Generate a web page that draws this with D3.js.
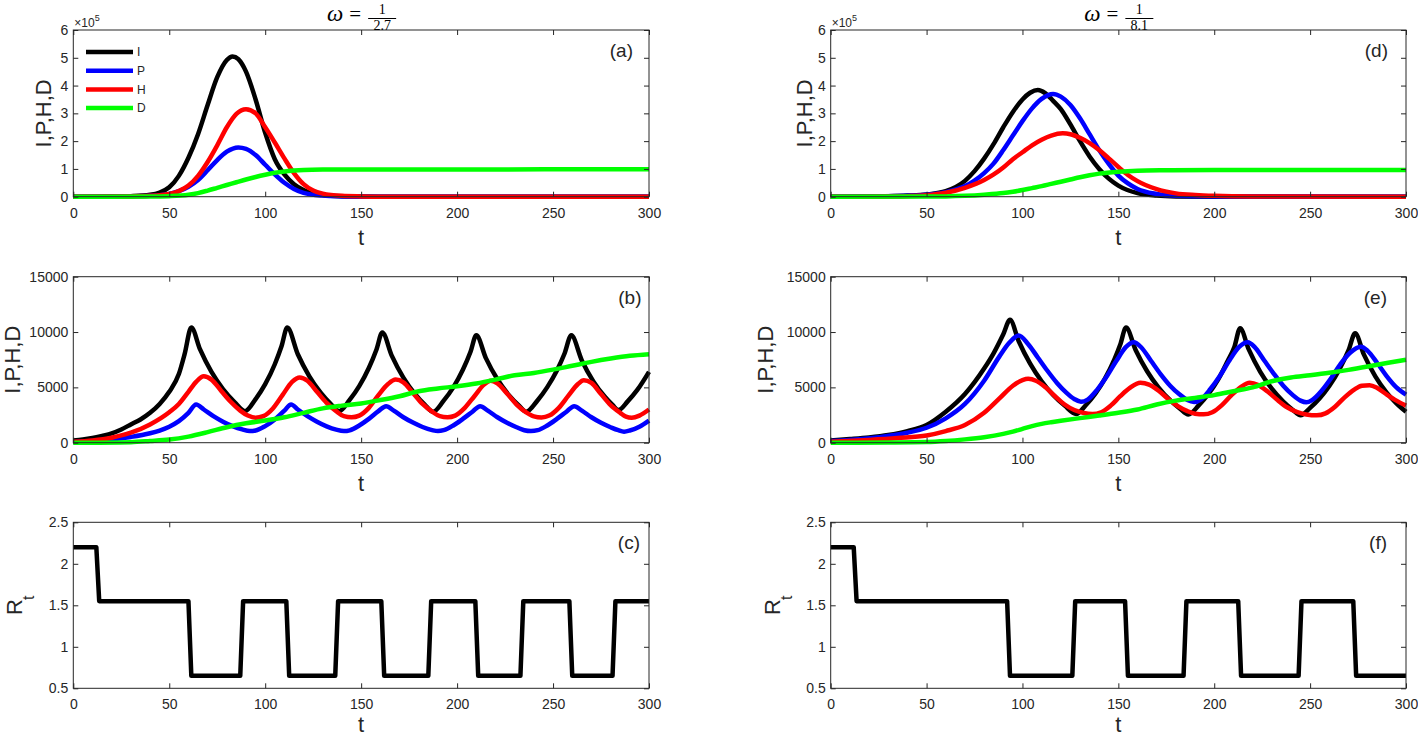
<!DOCTYPE html>
<html>
<head>
<meta charset="utf-8">
<script src="https://cdn.jsdelivr.net/npm/d3@7"></script>
<style>
body { margin: 0; background: #fff; }
svg { display: block; }
text { font-family: "Liberation Sans", Arial, sans-serif; fill: #262626; }
.serif { font-family: "Liberation Serif", "DejaVu Serif", serif; fill: #000; }
</style>
</head>
<body>
<svg id="fig" width="1418" height="739"></svg>
<script>
// ---- data ----
// x axis (days) and tick labels
const tDomain = [0, 300];
const tTicks = [0, 50, 100, 150, 200, 250, 300];
const bigTicks = [0, 1, 2, 3, 4, 5, 6];          // x10^5
const smallTicks = [0, 5000, 10000, 15000];
const rtTicks = [0.5, 1, 1.5, 2, 2.5];
const legendNames = ['I', 'P', 'H', 'D'];
const colors = ['#000000', '#0000ff', '#ff0000', '#00ff00'];

// (a) omega = 1/2.7, values in units of 10^5  [t, value]
const aI = [[0,0],[20,0.005],[30,0.02],[40,0.07],[45,0.15],[50,0.34],[55,0.75],[60,1.4],[65,2.25],[70,3.3],[75,4.3],[80,4.92],[83,5.05],[86,4.95],[90,4.5],[95,3.5],[100,2.3],[105,1.35],[110,0.8],[115,0.45],[120,0.24],[125,0.12],[130,0.06],[140,0.015],[150,0.003],[170,0],[300,0]];
const aP = [[0,0],[30,0.01],[40,0.03],[50,0.1],[55,0.2],[60,0.36],[65,0.6],[70,0.95],[75,1.32],[80,1.62],[86,1.77],[90,1.72],[95,1.5],[100,1.15],[105,0.8],[110,0.5],[115,0.28],[120,0.14],[130,0.04],[140,0.01],[150,0],[300,0]];
const aH = [[0,0],[30,0.01],[40,0.03],[50,0.1],[55,0.2],[60,0.4],[65,0.75],[70,1.25],[75,1.85],[80,2.5],[85,2.98],[90,3.15],[95,3.0],[100,2.5],[105,1.95],[110,1.38],[115,0.85],[120,0.45],[125,0.22],[130,0.11],[140,0.03],[150,0.01],[160,0],[300,0]];
const aD = [[0,0],[40,0.005],[50,0.02],[60,0.07],[65,0.13],[70,0.22],[75,0.32],[80,0.42],[85,0.52],[90,0.62],[95,0.71],[100,0.79],[105,0.86],[110,0.91],[115,0.94],[120,0.96],[130,0.975],[150,0.98],[300,0.985]];

// (b) omega = 1/2.7 with periodic intervention
const bI = [[0,200],[5,280],[10,420],[15,620],[20,850],[25,1200],[30,1650],[35,2100],[40,2700],[45,3500],[50,4600],[55,6200],[58,8000],[61.5,10400],[66,8450],[72,6400],[78,4850],[84,3680],[89.5,2850],[95,3940],[100,5290],[105,7090],[108.5,8710],[111.5,10400],[117,7990],[123,6000],[129,4500],[134,3540],[138.5,2850],[144,3870],[149,5110],[154,6750],[158,8430],[161,9950],[166,7840],[172,5880],[178,4410],[183,3470],[187.5,2800],[193,3800],[198,5000],[203,6590],[207,8220],[210,9700],[215,7640],[221,5730],[227,4300],[232,3390],[236,2800],[242,3840],[247,5020],[252,6520],[256,8060],[259.5,9700],[265,7430],[271,5540],[277,4150],[281,3410],[284,2950],[289,3760],[294,4790],[300,6400]];
const bP = [[0,50],[10,150],[20,300],[30,520],[40,850],[45,1100],[50,1450],[55,1950],[60,2700],[64,3450],[68,3000],[73,2400],[78,1900],[83,1500],[88,1200],[92,1050],[95,1100],[100,1500],[105,2100],[110,2900],[113.5,3450],[117,3000],[122,2400],[127,1900],[132,1480],[137,1180],[141,1050],[144,1120],[149,1550],[154,2150],[159,2850],[163,3300],[167,2900],[172,2300],[177,1820],[182,1420],[187,1140],[190,1050],[193,1130],[198,1560],[203,2150],[208,2800],[212,3300],[216,2900],[221,2300],[226,1800],[231,1400],[235,1130],[238.5,1050],[242,1130],[247,1560],[252,2150],[257,2800],[261,3300],[265,2900],[270,2300],[275,1800],[280,1400],[284,1130],[287,1000],[290,1100],[295,1450],[300,2000]];
const bH = [[0,80],[10,200],[20,450],[30,900],[40,1650],[50,2750],[55,3500],[60,4600],[64,5500],[68,6000],[72,5700],[77,4700],[82,3700],[87,2900],[91,2450],[95,2250],[99,2400],[104,3100],[109,4300],[114,5500],[118,5900],[122,5600],[127,4600],[132,3600],[137,2850],[141,2400],[145,2300],[149,2450],[154,3150],[159,4300],[164,5300],[168,5700],[172,5450],[177,4500],[182,3500],[187,2800],[191,2400],[195,2300],[199,2450],[204,3150],[209,4200],[214,5250],[217.5,5600],[221,5350],[226,4450],[231,3450],[236,2750],[240,2380],[244,2280],[248,2450],[253,3150],[258,4250],[263,5300],[266,5650],[270,5400],[275,4400],[280,3400],[285,2700],[288,2350],[291,2250],[295,2450],[300,3000]];
const bD = [[0,0],[30,50],[40,150],[50,280],[60,550],[70,950],[80,1400],[90,1750],[100,2000],[110,2300],[120,2700],[130,3100],[140,3350],[150,3550],[160,3850],[170,4200],[180,4650],[190,4900],[200,5100],[210,5350],[220,5700],[230,6100],[240,6300],[250,6600],[260,6950],[270,7300],[280,7600],[290,7850],[300,8000]];

// (c) R_t for omega = 1/2.7
const cR = [[0,2.2],[12,2.2],[13.5,1.55],[60,1.55],[61.5,0.65],[87,0.65],[88.5,1.55],[111,1.55],[112.5,0.65],[136.5,0.65],[138,1.55],[160.5,1.55],[162,0.65],[185,0.65],[186.5,1.55],[209.5,1.55],[211,0.65],[233,0.65],[234.5,1.55],[258.5,1.55],[260,0.65],[281,0.65],[282.5,1.55],[300,1.55]];

// (d) omega = 1/8.1, values in units of 10^5
const dI = [[0,0],[30,0.02],[40,0.04],[50,0.08],[60,0.2],[70,0.57],[75,0.92],[80,1.37],[85,1.9],[90,2.5],[95,3.05],[100,3.5],[104,3.74],[108,3.84],[112,3.72],[116,3.45],[120,3.15],[125,2.6],[130,2.0],[135,1.45],[140,1.0],[145,0.65],[150,0.4],[160,0.13],[170,0.04],[180,0.01],[200,0],[300,0]];
const dP = [[0,0],[40,0.03],[50,0.07],[60,0.16],[70,0.38],[75,0.58],[80,0.85],[85,1.2],[90,1.68],[95,2.2],[100,2.72],[105,3.18],[110,3.52],[116,3.7],[120,3.6],[125,3.3],[130,2.82],[135,2.25],[140,1.68],[145,1.18],[150,0.76],[155,0.48],[160,0.28],[170,0.1],[180,0.03],[200,0.005],[300,0]];
const dH = [[0,0],[30,0.01],[40,0.02],[50,0.05],[60,0.14],[70,0.32],[80,0.6],[85,0.8],[90,1.05],[95,1.35],[100,1.6],[105,1.85],[110,2.05],[115,2.2],[121,2.28],[125,2.25],[130,2.12],[135,1.93],[140,1.68],[145,1.38],[150,1.07],[155,0.78],[160,0.56],[170,0.27],[180,0.12],[190,0.06],[200,0.03],[220,0.01],[300,0]];
const dD = [[0,0],[50,0.005],[60,0.01],[70,0.03],[80,0.07],[90,0.13],[95,0.18],[100,0.24],[105,0.31],[110,0.38],[115,0.46],[120,0.54],[125,0.62],[130,0.7],[135,0.77],[140,0.83],[150,0.9],[160,0.935],[175,0.95],[200,0.96],[300,0.96]];

// (e) omega = 1/8.1 with periodic intervention
const eI = [[0,200],[10,330],[20,480],[30,700],[40,1050],[50,1600],[60,2800],[70,4400],[80,6700],[85,8100],[90,9800],[93.5,11100],[98,9190],[104,7140],[110,5550],[116,4310],[122,3350],[128,2600],[133,3390],[138,4430],[143,5790],[148,7550],[151,8870],[154,10400],[159,8380],[165,6460],[171,4980],[177,3840],[182,3100],[186.5,2550],[192,3390],[197,4400],[202,5700],[207,7390],[210.5,8650],[213.5,10340],[218,8430],[224,6410],[230,4880],[236,3720],[241,2960],[245,2470],[250,3150],[255,4020],[260,5130],[265,6540],[270,8340],[273.5,9890],[278,7980],[284,6000],[290,4510],[295,3560],[300,2800]];
const eP = [[0,150],[25,500],[40,900],[50,1350],[60,2200],[70,3500],[80,5600],[88,7800],[93,9000],[98,9680],[103,8900],[108,7700],[113,6500],[118,5400],[123,4500],[127,3950],[130.5,3700],[134,3900],[139,4800],[144,6000],[149,7400],[154,8650],[158,9080],[162,8600],[167,7400],[172,6200],[177,5150],[182,4350],[186,3850],[189.5,3680],[193,3900],[198,4850],[203,6050],[208,7450],[213,8650],[217.5,9080],[221,8650],[226,7450],[231,6250],[236,5150],[241,4300],[245,3800],[248,3650],[251,3850],[256,4700],[261,5850],[266,7150],[271,8150],[276.5,8670],[280,8300],[285,7200],[290,6000],[295,5000],[300,4350]];
const eH = [[0,80],[20,250],[35,420],[50,650],[60,1050],[70,1600],[80,2700],[88,4000],[95,5150],[100,5650],[103,5770],[107,5600],[112,5000],[117,4200],[122,3450],[127,2950],[132,2680],[136.5,2600],[141,2750],[146,3350],[151,4200],[156,4950],[161.5,5410],[166,5250],[171,4700],[176,3950],[181,3300],[186,2850],[190,2620],[194.5,2560],[199,2750],[204,3400],[209,4300],[214,5050],[218.5,5410],[223,5200],[228,4600],[233,3850],[238,3200],[243,2780],[248,2550],[253.5,2470],[258,2650],[263,3250],[268,4100],[273,4800],[277,5150],[281,5200],[285,4950],[290,4350],[295,3800],[300,3350]];
const eD = [[0,0],[30,20],[50,60],[60,150],[70,300],[80,500],[90,800],[95,1000],[100,1250],[105,1500],[110,1700],[115,1850],[120,1980],[130,2220],[140,2450],[150,2700],[160,3000],[170,3450],[180,3800],[190,4050],[200,4300],[210,4650],[220,5000],[230,5550],[240,5900],[250,6100],[260,6320],[270,6580],[280,6880],[290,7200],[300,7500]];

// (f) R_t for omega = 1/8.1
const fR = [[0,2.2],[12,2.2],[13.5,1.55],[92,1.55],[93.5,0.65],[126,0.65],[127.5,1.55],[153.5,1.55],[155,0.65],[184,0.65],[185.5,1.55],[212.5,1.55],[214,0.65],[244,0.65],[245.5,1.55],[272.5,1.55],[274,0.65],[300,0.65]];

// ---- layout ----
const svg = d3.select('#fig');
const colsX = [[73.3, 649], [830.7, 1406]];
const rowsY = [[30, 196.7], [276.7, 442.7], [522.3, 688.3]];

const panels = [
  { col: 0, row: 0, letter: '(a)', domain: [0, 6], ticks: bigTicks, series: [aI, aP, aH, aD], ylab: 'I,P,H,D', ylabOff: 22.3, exp: true, legend: true, letterRight: 16 },
  { col: 0, row: 1, letter: '(b)', domain: [0, 15000], ticks: smallTicks, series: [bI, bP, bH, bD], ylab: 'I,P,H,D', ylabOff: 53.5, letterRight: 7.5 },
  { col: 0, row: 2, letter: '(c)', domain: [0.5, 2.5], ticks: rtTicks, series: [cR], rt: true, ylabOff: 51.3, letterRight: 9 },
  { col: 1, row: 0, letter: '(d)', domain: [0, 6], ticks: bigTicks, series: [dI, dP, dH, dD], ylab: 'I,P,H,D', ylabOff: 19, exp: true, letterRight: 18 },
  { col: 1, row: 1, letter: '(e)', domain: [0, 15000], ticks: smallTicks, series: [eI, eP, eH, eD], ylab: 'I,P,H,D', ylabOff: 57.7, letterRight: 19 },
  { col: 1, row: 2, letter: '(f)', domain: [0.5, 2.5], ticks: rtTicks, series: [fR], rt: true, ylabOff: 50.7, letterRight: 19 }
];

panels.forEach(p => {
  const [x0, x1] = colsX[p.col];
  const [y0, y1] = rowsY[p.row];
  const x = d3.scaleLinear().domain(tDomain).range([x0, x1]);
  const y = d3.scaleLinear().domain(p.domain).range([y1, y0]);
  const g = svg.append('g');

  // curves
  const line = d3.line().x(d => x(d[0])).y(d => y(d[1]))
    .curve(p.rt ? d3.curveLinear : d3.curveMonotoneX);
  g.selectAll('.s').data(p.series).enter().append('path')
    .attr('d', d => line(d))
    .attr('fill', 'none')
    .attr('stroke', (d, i) => p.rt ? '#000' : colors[i])
    .attr('stroke-width', 4.5)
    .attr('stroke-linejoin', 'round');

  // axes, ticks pointing inward on all four sides
  const fmt = d3.format('');
  const ax = [
    d3.axisBottom(x).tickValues(tTicks).tickFormat(fmt).tickSizeInner(-5).tickSizeOuter(0).tickPadding(11),
    d3.axisTop(x).tickValues(tTicks).tickFormat('').tickSizeInner(-5).tickSizeOuter(0),
    d3.axisLeft(y).tickValues(p.ticks).tickFormat(fmt).tickSizeInner(-5).tickSizeOuter(0).tickPadding(5),
    d3.axisRight(y).tickValues(p.ticks).tickFormat('').tickSizeInner(-5).tickSizeOuter(0)
  ];
  const pos = [`translate(0,${y1})`, `translate(0,${y0})`, `translate(${x0},0)`, `translate(${x1},0)`];
  ax.forEach((a, i) => {
    const ag = g.append('g').attr('transform', pos[i]).call(a);
    ag.select('.domain').remove();
    ag.selectAll('line').attr('stroke', '#262626').attr('stroke-width', 1);
    ag.selectAll('text').attr('font-size', 14).attr('font-family', null).attr('fill', '#262626');
  });
  g.append('rect').attr('x', x0).attr('y', y0).attr('width', x1 - x0).attr('height', y1 - y0)
    .attr('fill', 'none').attr('stroke', '#262626').attr('stroke-width', 1);

  // x label
  g.append('text').attr('x', (x0 + x1) / 2).attr('y', Math.min(y1 + 48, 732))
    .attr('text-anchor', 'middle').attr('font-size', 22).text('t');

  // y label
  const yl = g.append('text')
    .attr('transform', `translate(${x0 - p.ylabOff},${(y0 + y1) / 2}) rotate(-90)`)
    .attr('text-anchor', 'middle').attr('font-size', 22);
  if (p.rt) {
    yl.append('tspan').text('R');
    yl.append('tspan').attr('font-size', 16).attr('dy', 12).attr('dx', -1).text('t');
  } else {
    yl.text(p.ylab);
  }

  // panel letter
  g.append('text').attr('x', x1 - p.letterRight).attr('y', y0 + 27)
    .attr('text-anchor', 'end').attr('font-size', 19).attr('fill', '#000').text(p.letter);

  // exponent label
  if (p.exp) {
    const e = g.append('text').attr('x', x0 + 1).attr('y', y0 - 3).attr('font-size', 12);
    e.append('tspan').text('\u00d710');
    e.append('tspan').attr('font-size', 9).attr('dy', -6).text('5');
  }

  // legend
  if (p.legend) {
    const lg = g.append('g').selectAll('g').data(legendNames).enter().append('g')
      .attr('transform', (d, i) => `translate(86,${52 + i * 18.7})`);
    lg.append('line').attr('x1', 0).attr('x2', 47).attr('y1', 0).attr('y2', 0)
      .attr('stroke', (d, i) => colors[i]).attr('stroke-width', 4.5);
    lg.append('text').attr('x', 51).attr('y', 0).attr('dy', '0.35em')
      .attr('font-size', 12).attr('fill', '#000').text(d => d);
  }
});

// column titles: omega = 1/2.7 and omega = 1/8.1
const titles = [{ den: '2.7', col: 0 }, { den: '8.1', col: 1 }];
titles.forEach(t => {
  const cx = (colsX[t.col][0] + colsX[t.col][1]) / 2;
  const tg = svg.append('g').attr('transform', `translate(${cx},0)`);
  tg.append('text').attr('class', 'serif').attr('x', -26).attr('y', 21)
    .attr('text-anchor', 'middle').attr('font-size', 23).attr('font-style', 'italic').text('\u03c9');
  tg.append('text').attr('class', 'serif').attr('x', -6).attr('y', 21)
    .attr('text-anchor', 'middle').attr('font-size', 21).text('=');
  tg.append('text').attr('class', 'serif').attr('x', 21).attr('y', 14)
    .attr('text-anchor', 'middle').attr('font-size', 14).text('1');
  tg.append('line').attr('x1', 7).attr('x2', 35).attr('y1', 18.5).attr('y2', 18.5)
    .attr('stroke', '#000').attr('stroke-width', 1);
  tg.append('text').attr('class', 'serif').attr('x', 21).attr('y', 29.5)
    .attr('text-anchor', 'middle').attr('font-size', 14).text(t.den);
});
</script>
</body>
</html>
